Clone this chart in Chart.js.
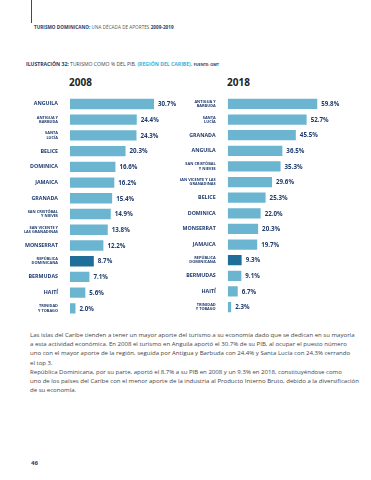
<!DOCTYPE html>
<html><head><meta charset="utf-8">
<script src="https://cdn.jsdelivr.net/npm/chart.js@4.4.1/dist/chart.umd.min.js"></script>
<style>
html,body{margin:0;padding:0;background:#fff;width:371px;height:480px;overflow:hidden;font-family:"Open Sans",sans-serif;}
.abs{position:absolute;white-space:nowrap;}
.navy{color:#1e3a6e;}
</style></head><body>
<div class="abs" style="left:31px;top:0;width:1px;height:23px;background:#2b4b86;"></div>
<div class="abs" style="left:34px;top:24px;font-size:4.6px;color:#555;letter-spacing:0.05px;"><b class="navy">TURISMO DOMINICANO:</b> UNA DÉCADA DE APORTES <b class="navy">2009-2019</b></div>
<div class="abs" style="left:26px;top:61px;font-size:5.1px;color:#444;"><b class="navy">ILUSTRACIÓN 32:</b> TURISMO COMO % DEL PIB. <b style="color:#45aed3">(REGIÓN DEL CARIBE).</b> <b class="navy" style="font-size:3.8px">FUENTE: OMT</b></div>
<div class="abs" style="left:69px;top:75px;font-size:10px;font-weight:700;color:#222;">2008</div>
<div class="abs" style="left:227px;top:75px;font-size:10px;font-weight:700;color:#222;">2018</div>
<div class="abs" style="left:0;top:88px;width:180px;height:235px;"><canvas id="c1"></canvas></div>
<div class="abs" style="left:180px;top:88px;width:175px;height:235px;"><canvas id="c2"></canvas></div>
<div class="abs" style="left:30px;top:331px;font-size:6.05px;line-height:9.2px;color:#444;">
Las islas del Caribe tienden a tener un mayor aporte del turismo a su economía dado que se dedican en su mayoría<br>
a esta actividad económica. En 2008 el turismo en Anguila aportó el 30.7% de su PIB, al ocupar el puesto número<br>
uno con el mayor aporte de la región, seguida por Antigua y Barbuda con 24.4% y Santa Lucía con 24.3% cerrando<br>
el top 3.<br>
República Dominicana, por su parte, aportó el 8.7% a su PIB en 2008 y un 9.3% en 2018, constituyéndose como<br>
uno de los países del Caribe con el menor aporte de la industria al Producto Interno Bruto, debido a la diversificación<br>
de su economía.
</div>
<div class="abs navy" style="left:31px;top:459px;font-size:6px;font-weight:700;">46</div>
<script>
const categories2008 = [["ANGUILA"],["ANTIGUA Y","BARBUDA"],["SANTA","LUCÍA"],["BELICE"],["DOMINICA"],["JAMAICA"],["GRANADA"],["SAN CRISTÓBAL","Y NIEVES"],["SAN VICENTE Y","LAS GRANADINAS"],["MONSERRAT"],["REPÚBLICA","DOMINICANA"],["BERMUDAS"],["HAITÍ"],["TRINIDAD","Y TOBAGO"]];
const values2008 = [30.7,24.4,24.3,20.3,16.6,16.2,15.4,14.9,13.8,12.2,8.7,7.1,5.6,2.0];
const categories2018 = [["ANTIGUA Y","BARBUDA"],["SANTA","LUCÍA"],["GRANADA"],["ANGUILA"],["SAN CRISTÓBAL","Y NIEVES"],["SAN VICENTE Y LAS","GRANADINAS"],["BELICE"],["DOMINICA"],["MONSERRAT"],["JAMAICA"],["REPÚBLICA","DOMINICANA"],["BERMUDAS"],["HAITÍ"],["TRINIDAD","Y TOBAGO"]];
const values2018 = [59.8,52.7,45.5,36.5,35.3,29.6,25.3,22.0,20.3,19.7,9.3,9.1,6.7,2.3];
const highlight = "REPÚBLICA";

const LIGHT = "#6cb5d1", DARK = "#1f6e99", NAVY = "#1e3a6e";
const valueLabels = {
  id:'valueLabels',
  afterDatasetsDraw(chart){
    const ctx = chart.ctx;
    const meta = chart.getDatasetMeta(0);
    ctx.save();
    ctx.font = "700 6.2px 'Open Sans'";
    ctx.fillStyle = NAVY;
    ctx.textBaseline = "middle";
    meta.data.forEach((bar,i)=>{
      const v = chart.data.datasets[0].data[i];
      ctx.fillText(v.toFixed(1)+"%", bar.x+4, bar.y+0.5);
    });
    ctx.restore();
  }
};
function makeChart(id, cats, vals, axisW, xmax){
  new Chart(document.getElementById(id), {
    type:'bar',
    data:{labels:cats, datasets:[{data:vals,
      backgroundColor: cats.map(c=>c[0]===highlight?DARK:LIGHT),
      barPercentage:0.66, categoryPercentage:1}]},
    options:{
      indexAxis:'y', responsive:true, maintainAspectRatio:false, animation:false,
      layout:{padding:0},
      plugins:{legend:{display:false}, tooltip:{enabled:false}},
      scales:{
        x:{display:false, min:0, max:xmax},
        y:{grid:{display:false}, border:{display:false},
           afterFit(s){ s.width = axisW; },
           ticks:{color:NAVY, padding:4, autoSkip:false,
             font:(ctx)=>{ const l = cats[ctx.index]; return {family:"'Open Sans'", weight:'700', size: (l && l.length>1)?3.9:5.3, lineHeight:1.05}; }}}
      }
    },
    plugins:[valueLabels]
  });
}
makeChart('c1', categories2008, values2008, 70, 40.2);
makeChart('c2', categories2018, values2018, 47.7, 85);
</script>
</body></html>
